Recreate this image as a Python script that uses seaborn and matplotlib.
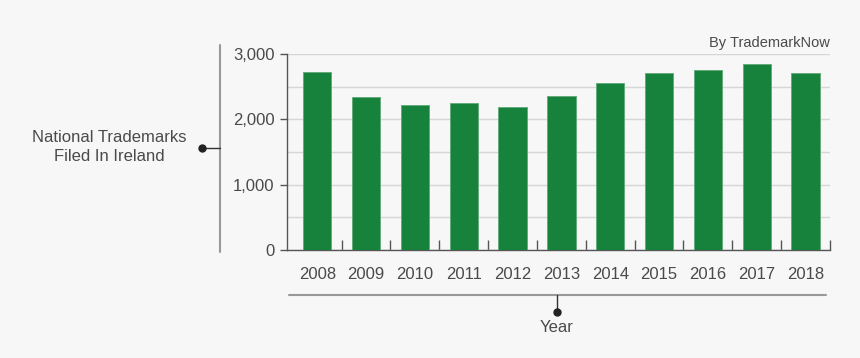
import numpy as np
import matplotlib
matplotlib.use("Agg")
import matplotlib.pyplot as plt
from matplotlib.lines import Line2D
from matplotlib.ticker import FuncFormatter
import seaborn as sns

# data
years = ["2008", "2009", "2010", "2011", "2012", "2013",
         "2014", "2015", "2016", "2017", "2018"]
filings = [2725, 2340, 2215, 2245, 2195, 2365, 2550, 2705, 2750, 2850, 2705]

bg = "#f7f7f7"
green = "#17823b"
txt = "#4a4a4a"

sns.set_theme(style="white")
plt.rcParams["font.family"] = ["Liberation Sans", "DejaVu Sans"]

fig = plt.figure(figsize=(8.6, 3.58), dpi=100, facecolor=bg)
ax = fig.add_axes([0.3337, 0.3017, 0.965 - 0.3337, 0.849 - 0.3017])
ax.set_facecolor(bg)

sns.barplot(x=years, y=filings, color=green, width=0.58, saturation=1,
            edgecolor="#5fa877", linewidth=0.6, ax=ax, zorder=3)

ax.set_ylim(0, 3000)
ax.set_xlim(-0.62, 10.5)
ax.set_yticks([0, 1000, 2000, 3000])
ax.set_yticks([500, 1500, 2500], minor=True)
ax.yaxis.set_major_formatter(FuncFormatter(lambda v, p: f"{int(v):,}"))
ax.grid(axis="y", which="both", color="#d6d6d6", linewidth=1, zorder=0)
ax.set_axisbelow(True)

# small inward ticks between the year groups
ax.set_xticks(np.arange(0.5, 11, 1), minor=True)
ax.tick_params(axis="x", which="major", bottom=False, length=0, pad=12,
               labelsize=12, labelcolor=txt)
ax.tick_params(axis="x", which="minor", bottom=True, direction="in", length=7,
               width=1, color="#555555")
ax.tick_params(axis="y", which="major", left=True, direction="out", length=5, width=1,
               color="#555555", pad=4, labelsize=12, labelcolor=txt)
ax.tick_params(axis="y", which="minor", left=False, length=0)

for s in ["top", "right"]:
    ax.spines[s].set_visible(False)
for s in ["left", "bottom"]:
    ax.spines[s].set_color("#555555")
    ax.spines[s].set_linewidth(1)
ax.set_xlabel("")
ax.set_ylabel("")

ax.text(1.0, 1.02, "By TrademarkNow", transform=ax.transAxes, ha="right", va="bottom",
        fontsize=10.5, color=txt)

# y annotation bracket
fig.add_artist(Line2D([0.2558, 0.2558], [0.874, 0.296], color="#999999", lw=1.5))
fig.add_artist(Line2D([0.235, 0.2558], [0.587, 0.587], color="#333333", lw=1))
fig.add_artist(Line2D([0.235], [0.587], marker="o", markersize=5, color="#222222"))
fig.text(0.127, 0.589, "National Trademarks\nFiled In Ireland", ha="center", va="center",
         fontsize=12, color=txt, linespacing=1.3)

# x annotation bracket
fig.add_artist(Line2D([0.336, 0.9605], [0.176, 0.176], color="#999999", lw=1.5))
fig.add_artist(Line2D([0.6477, 0.6477], [0.176, 0.128], color="#333333", lw=1))
fig.add_artist(Line2D([0.6477], [0.128], marker="o", markersize=5, color="#222222"))
fig.text(0.6477, 0.084, "Year", ha="center", va="center", fontsize=12, color=txt)

fig.savefig("out.png", dpi=100, facecolor=bg)
